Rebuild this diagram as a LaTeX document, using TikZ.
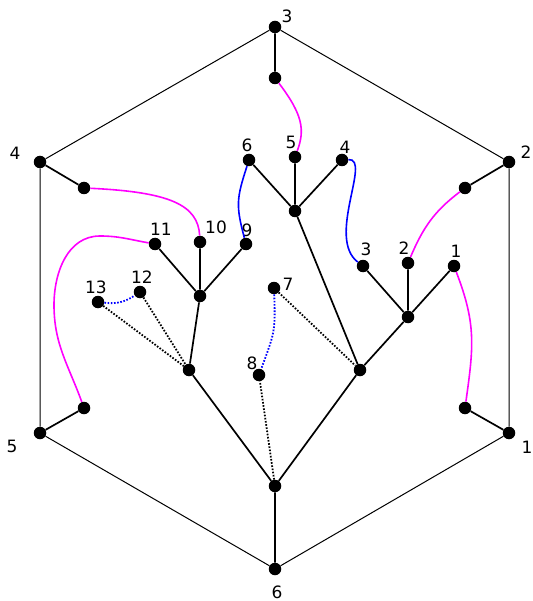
\documentclass[tikz,border=0pt]{standalone}
\usepackage{fontspec}
\setmainfont{DejaVu Sans}
\definecolor{mymag}{RGB}{255,0,255}
\definecolor{myblue}{RGB}{0,0,255}
\begin{document}
\begin{tikzpicture}[x=1pt,y=1pt,
  dot/.style={circle,fill=black,inner sep=0pt,minimum size=12.5pt},
  lab/.style={inner sep=0pt,font=\fontsize{17}{20}\selectfont},
  hexedge/.style={line width=1pt,black},
  tree/.style={line width=1.7pt,black},
  dots/.style={line width=1.8pt,dash pattern=on 1.6pt off 1.6pt},
  mag/.style={line width=1.6pt,mymag},
  blu/.style={line width=1.6pt,myblue}]
\useasboundingbox (0,0) rectangle (532,-601);
% outer hexagon vertices
\node[dot] (h3) at (275,-27) {};
\node[dot] (h2) at (509,-162) {};
\node[dot] (h1) at (509,-433) {};
\node[dot] (h6) at (275,-569) {};
\node[dot] (h5) at (40,-433) {};
\node[dot] (h4) at (40,-162) {};
% inner points
\node[dot] (i3) at (275,-78) {};
\node[dot] (i2) at (465,-188) {};
\node[dot] (i1) at (465,-408) {};
\node[dot] (root) at (275,-486) {};
\node[dot] (i5) at (84,-408) {};
\node[dot] (i4) at (84,-188) {};
% tree
\node[dot] (R) at (360,-370) {};
\node[dot] (L) at (189,-370) {};
\node[dot] (A) at (408,-317) {};
\node[dot] (B) at (295,-211) {};
\node[dot] (C) at (200,-296) {};
\node[dot] (a1) at (454,-266) {};
\node[dot] (a2) at (408,-263) {};
\node[dot] (a3) at (363,-266) {};
\node[dot] (b4) at (342,-160) {};
\node[dot] (b5) at (295,-157) {};
\node[dot] (b6) at (249,-160) {};
\node[dot] (c9) at (246,-244) {};
\node[dot] (c10) at (200,-242) {};
\node[dot] (c11) at (155,-244) {};
\node[dot] (n7) at (274,-288) {};
\node[dot] (n8) at (259,-375) {};
\node[dot] (n12) at (140,-292) {};
\node[dot] (n13) at (98,-302) {};
% labels
\node[lab] (l3) at (287,-16) {3};
\node[lab] (l2) at (526,-152) {2};
\node[lab] (l1) at (527,-447) {1};
\node[lab] (l6) at (277,-592) {6};
\node[lab] (l5) at (12,-446) {5};
\node[lab] (l4) at (15,-153) {4};
\node[lab] (t1) at (456,-251) {1};
\node[lab] (t2) at (404,-248) {2};
\node[lab] (t3) at (366,-249) {3};
\node[lab] (t4) at (345,-147) {4};
\node[lab] (t5) at (291,-142) {5};
\node[lab] (t6) at (247,-145) {6};
\node[lab] (t7) at (288,-284) {7};
\node[lab] (t8) at (252,-363) {8};
\node[lab] (t9) at (247,-230) {9};
\node[lab] (t10) at (216,-227) {10};
\node[lab] (t11) at (161,-229) {11};
\node[lab] (t12) at (142,-277) {12};
\node[lab] (t13) at (96,-287) {13};
% hexagon
\draw[hexedge] (h3)--(h2) (h2)--(h1) (h1)--(h6) (h6)--(h5) (h5)--(h4) (h4)--(h3);
% spokes
\draw[tree] (h3)--(i3) (h2)--(i2) (h1)--(i1) (h6)--(root) (h5)--(i5) (h4)--(i4);
% tree edges
\draw[tree] (root)--(R) (R)--(A) (A)--(a1) (A)--(a2) (A)--(a3)
  (R)--(B) (B)--(b4) (B)--(b5) (B)--(b6)
  (root)--(L) (L)--(C) (C)--(c9) (C)--(c10) (C)--(c11);
% dotted
\draw[dots] (root)--(n8) (n7)--(R) (n13)--(L) (n12)--(L);
\draw[dots,myblue] (n7) to[out=-88,in=70,looseness=1.3] (n8);
\draw[dots,myblue] (n13) to[bend right=20] (n12);
% magenta curves
\draw[mag] (i3) .. controls (303,-115) and (305,-130) .. (b5);
\draw[mag] (i2) to[out=-143,in=67] (a2);
\draw[mag] (a1) to[out=-69,in=82,looseness=1.1] (i1);
\draw[mag] (i4) .. controls (170,-192) and (198,-205) .. (c10);
\draw[mag] (c11) to[out=170,in=0] (100,-236) to[out=180,in=90] (54,-305) to[out=-90,in=110] (i5);
% blue curves
\draw[blu] (b6) to[out=-108,in=105,looseness=1.2] (c9);
\draw[blu] (b4) .. controls (372,-158) and (326,-238) .. (a3);
\end{tikzpicture}
\end{document}
